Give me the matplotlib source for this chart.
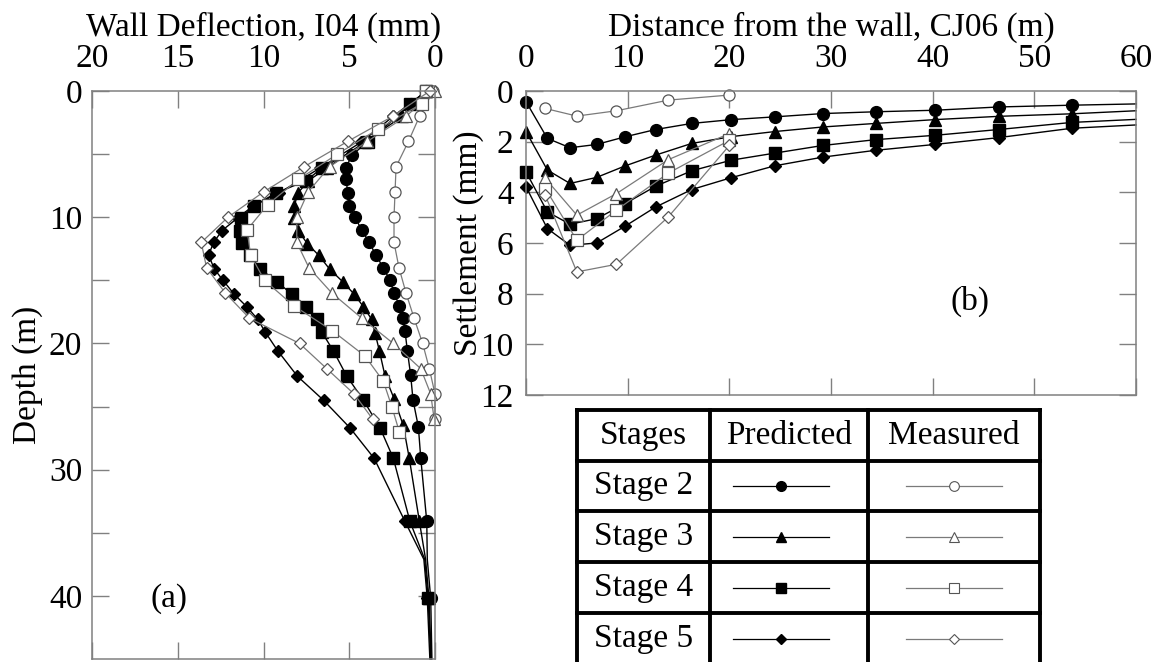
import matplotlib.pyplot as plt

plt.rcParams['font.family'] = ['Liberation Serif', 'DejaVu Serif']
plt.rcParams['font.size'] = 24

W, H = 1162, 662

stages = ['Stage 2', 'Stage 3', 'Stage 4', 'Stage 5']
marks = ['o', '^', 's', 'D']
msize = {'o': 8.5, '^': 8.5, 's': 8.5, 'D': 6.2}
grey = '#7a7a7a'

# ---- (a) wall deflection (mm) vs depth (m), inclinometer I04 ----
# predicted: last nodes 37.1 and 45 have no marker
a_pred_depth_s2 = [0, 1.0, 5.1, 6.1, 7.0, 8.1, 9.1, 10.0, 11.0, 12.0, 13.0, 14.0, 15.0, 16.0, 17.0,
                   18.0, 19.0, 20.6, 22.5, 24.5, 26.6, 29.1, 34.1, 37.1, 40.2, 45]
a_pred_defl_s2 = [0.5, 1.4, 4.85, 5.2, 5.17, 5.1, 5.0, 4.68, 4.27, 3.84, 3.44, 3.02, 2.62, 2.39, 2.08,
                  1.88, 1.75, 1.61, 1.42, 1.28, 0.97, 0.83, 0.48, 0.45, 0.25, 0.18]
a_pred_depth_s3 = [0, 2.0, 4.05, 6.1, 7.1, 8.1, 9.1, 10.05, 11.1, 12.1, 13.0, 14.1, 15.1, 16.1, 17.1,
                   18.1, 19.2, 20.6, 22.6, 24.4, 26.5, 29.1, 34.1, 37.1, 40.2, 45]
a_pred_defl_s3 = [0.5, 1.9, 4.1, 6.3, 7.38, 8.0, 8.2, 8.2, 7.96, 7.44, 6.79, 6.15, 5.39, 4.71, 4.17,
                  3.69, 3.49, 3.24, 2.91, 2.38, 1.85, 1.5, 0.91, 0.55, 0.35, 0.22]
a_pred_depth_s4 = [0, 1.06, 4.05, 6.1, 7.1, 8.1, 9.1, 10.05, 11.06, 12.06, 13.0, 14.1, 15.1, 16.1, 17.1,
                   18.1, 19.1, 20.6, 22.6, 24.5, 26.7, 29.1, 34.1, 37.1, 40.2, 45]
a_pred_defl_s4 = [0.5, 1.46, 3.9, 6.6, 7.5, 9.3, 10.55, 11.3, 11.36, 11.26, 10.8, 10.19, 9.22, 8.35, 7.51,
                  6.89, 6.6, 5.92, 5.14, 4.17, 3.2, 2.43, 1.46, 0.6, 0.4, 0.25]
a_pred_depth_s5 = [0, 2.0, 4.05, 6.1, 8.1, 9.1, 10.05, 11.06, 12.0, 13.0, 14.1, 15.0, 16.1, 17.1,
                   18.1, 19.1, 20.6, 22.6, 24.5, 26.7, 29.1, 34.1, 37.1, 40.2, 45]
a_pred_defl_s5 = [0.5, 2.43, 4.3, 6.7, 9.12, 10.6, 11.5, 12.42, 12.91, 13.2, 12.87, 12.36, 11.71, 10.97,
                  10.33, 9.9, 9.16, 8.02, 6.5, 4.95, 3.55, 1.75, 0.65, 0.45, 0.3]

a_meas_depth_s2 = [0, 2, 4, 6, 8, 10, 12, 14, 16, 18, 20, 22, 24, 26]
a_meas_defl_s2 = [0.1, 0.9, 1.55, 2.27, 2.33, 2.39, 2.39, 2.1, 1.69, 1.22, 0.72, 0.33, 0.0, 0.0]
a_meas_depth_s3 = [0, 2, 4, 6, 8, 10, 12, 14, 16, 18, 20, 22, 24, 26]
a_meas_defl_s3 = [0.0, 1.69, 3.95, 6.15, 7.4, 8.06, 8.06, 7.35, 6.02, 4.27, 2.43, 0.83, 0.25, 0.05]
a_meas_depth_s4 = [0, 1, 3, 5, 7, 9, 11, 13, 15, 17, 19, 21, 23, 25, 27]
a_meas_defl_s4 = [0.5, 0.77, 3.3, 5.69, 7.96, 9.75, 10.96, 10.75, 9.94, 8.25, 5.98, 4.08, 3.01, 2.52, 2.08]
a_meas_depth_s5 = [0, 2, 4, 6, 8, 10, 12, 14, 16, 18, 20, 22, 24, 26]
a_meas_defl_s5 = [0.3, 2.46, 5.1, 7.63, 10.0, 12.07, 13.63, 13.32, 12.23, 10.82, 7.9, 6.31, 4.72, 3.63]

# ---- (b) surface settlement (mm) vs distance from wall (m), CJ06 ----
b_pred_dist = [0, 2.1, 4.33, 6.95, 9.73, 12.75, 16.3, 20.2, 24.5, 29.2, 34.4, 40.2, 46.5, 53.7, 60]
b_pred_s2 = [0.42, 1.87, 2.24, 2.11, 1.81, 1.52, 1.28, 1.13, 1.02, 0.89, 0.82, 0.76, 0.63, 0.56, 0.51]
b_pred_s3 = [1.6, 3.12, 3.65, 3.41, 2.96, 2.53, 2.07, 1.8, 1.6, 1.42, 1.28, 1.13, 1.0, 0.9, 0.78]
b_pred_s4 = [3.19, 4.77, 5.26, 5.04, 4.45, 3.76, 3.15, 2.73, 2.45, 2.15, 1.92, 1.75, 1.52, 1.24, 1.12]
b_pred_s5 = [3.78, 5.43, 6.09, 6.0, 5.34, 4.58, 3.89, 3.42, 2.95, 2.61, 2.34, 2.11, 1.84, 1.47, 1.34]

b_meas_dist = [1.9, 5.0, 8.9, 14.0, 20.0]
b_meas_s2 = [0.69, 0.99, 0.78, 0.36, 0.16]
b_meas_s3 = [3.45, 4.9, 4.05, 2.71, 1.68]
b_meas_s4 = [3.85, 5.89, 4.7, 3.24, 1.95]
b_meas_s5 = [4.12, 7.14, 6.84, 4.97, 2.15]

a_pred = [(a_pred_defl_s2, a_pred_depth_s2), (a_pred_defl_s3, a_pred_depth_s3),
          (a_pred_defl_s4, a_pred_depth_s4), (a_pred_defl_s5, a_pred_depth_s5)]
a_meas = [(a_meas_defl_s2, a_meas_depth_s2), (a_meas_defl_s3, a_meas_depth_s3),
          (a_meas_defl_s4, a_meas_depth_s4), (a_meas_defl_s5, a_meas_depth_s5)]
b_pred = [b_pred_s2, b_pred_s3, b_pred_s4, b_pred_s5]
b_meas = [b_meas_s2, b_meas_s3, b_meas_s4, b_meas_s5]


def pred_style(m):
    return dict(color='black', lw=1.0, marker=m, ms=msize[m], mfc='black', mec='black', clip_on=False)


def meas_style(m):
    return dict(color=grey, lw=0.9, marker=m, ms=msize[m] - 0.5, mfc='white', mec='#555555',
                mew=0.9, clip_on=False)


def style_axes(ax):
    for sp in ax.spines.values():
        sp.set_color('#808080')
        sp.set_linewidth(1.1)
    ax.tick_params(which='both', direction='in', length=12, width=1.0, color='#808080',
                   top=True, bottom=True, left=True, right=True,
                   labeltop=True, labelbottom=False)


fig = plt.figure(figsize=(W / 100, H / 100), dpi=100)

# panel (a)
ax1 = fig.add_axes([92 / W, 1 - 659 / H, 343 / W, 568 / H])
for (x, y), m in zip(a_pred, marks):
    n = len(y)
    ax1.plot(x, y, markevery=list(range(n - 3)) + [n - 2], **pred_style(m))
for (x, y), m in zip(a_meas, marks):
    ax1.plot(x, y, **meas_style(m))
ax1.set_xlim(20, 0)
ax1.set_ylim(45, 0)
ax1.set_xticks([20, 15, 10, 5, 0])
ax1.set_yticks([0, 10, 20, 30, 40])
ax1.set_yticks([5, 15, 25, 35], minor=True)
style_axes(ax1)
ax1.tick_params(axis='x', pad=12)
ax1.tick_params(axis='y', pad=7)
ax1.xaxis.set_label_position('top')
ax1.set_xlabel('Wall Deflection, I04 (mm)', labelpad=6)
ax1.set_ylabel('Depth (m)', labelpad=4)
ax1.text(15.5, 40.2, '(a)', ha='center', va='center')

# panel (b)
ax2 = fig.add_axes([526 / W, 1 - 395 / H, 610 / W, 304 / H])
for s, m in zip(b_pred, marks):
    ax2.plot(b_pred_dist, s, markevery=list(range(len(s) - 1)), **pred_style(m))
for s, m in zip(b_meas, marks):
    ax2.plot(b_meas_dist, s, **meas_style(m))
ax2.set_xlim(0, 60)
ax2.set_ylim(12, 0)
ax2.set_xticks(range(0, 61, 10))
ax2.set_yticks(range(0, 13, 2))
style_axes(ax2)
ax2.tick_params(axis='x', pad=12)
ax2.tick_params(axis='y', pad=9)
ax2.xaxis.set_label_position('top')
ax2.set_xlabel('Distance from the wall, CJ06 (m)', labelpad=6)
ax2.set_ylabel('Settlement (mm)', labelpad=-3)
ax2.text(43.7, 8.3, '(b)', ha='center', va='center')

# legend table, drawn in figure pixel space
tb = fig.add_axes([0, 0, 1, 1], zorder=-1)
tb.set_xlim(0, W)
tb.set_ylim(H, 0)
tb.axis('off')
col_x = [577, 710, 868, 1040]
row_y = [410, 461, 511, 562, 613, 664]
lw_tab = 2.8
for xv in col_x:
    tb.plot([xv, xv], [row_y[0], row_y[-1]], color='black', lw=lw_tab, solid_capstyle='projecting')
for yv in row_y:
    tb.plot([col_x[0], col_x[-1]], [yv, yv], color='black', lw=lw_tab, solid_capstyle='projecting')
yc = (row_y[0] + row_y[1]) / 2
for lab, x0, x1 in zip(['Stages', 'Predicted', 'Measured'], col_x[:-1], col_x[1:]):
    tb.text((x0 + x1) / 2, yc, lab, ha='center', va='center')
for i, (lab, m) in enumerate(zip(stages, marks)):
    yc = (row_y[i + 1] + row_y[i + 2]) / 2
    tb.text((col_x[0] + col_x[1]) / 2, yc, lab, ha='center', va='center')
    xp = (col_x[1] + col_x[2]) / 2 - 8
    tb.plot([xp - 48, xp + 48], [yc, yc], color='black', lw=0.9)
    tb.plot([xp], [yc], marker=m, ms=msize[m] - 1.5, mfc='black', mec='black', ls='none')
    xm = (col_x[2] + col_x[3]) / 2
    tb.plot([xm - 48, xm + 48], [yc, yc], color=grey, lw=0.9)
    tb.plot([xm], [yc], marker=m, ms=msize[m] - 1.5, mfc='white', mec='#555555', mew=0.8, ls='none')

fig.savefig('out.png', dpi=100)
